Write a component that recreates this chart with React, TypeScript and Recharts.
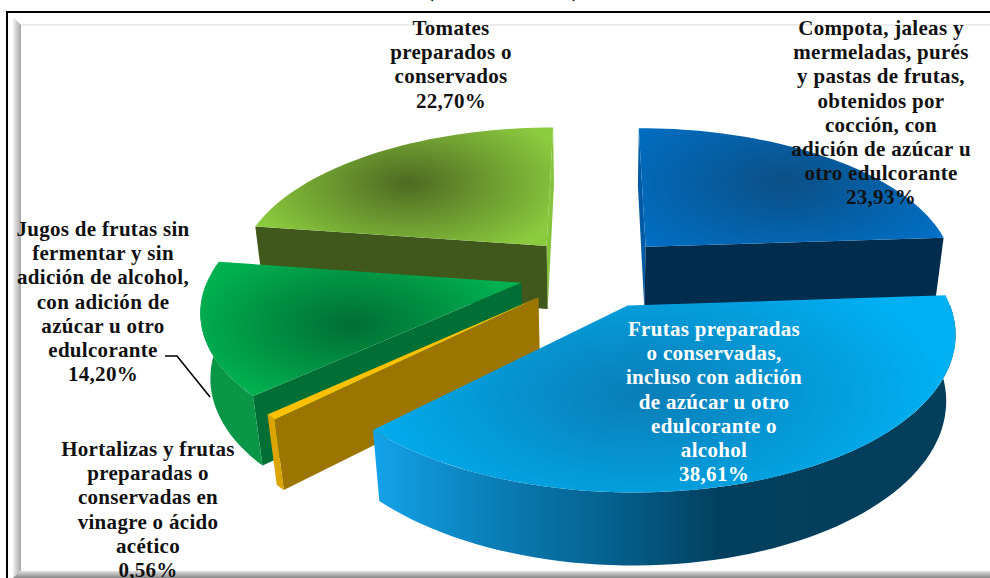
import { Pie, PieChart } from 'recharts'

const categories = [
  'Compota, jaleas y mermeladas, purés y pastas de frutas, obtenidos por cocción, con adición de azúcar u otro edulcorante',
  'Tomates preparados o conservados',
  'Jugos de frutas sin fermentar y sin adición de alcohol, con adición de azúcar u otro edulcorante',
  'Hortalizas y frutas preparadas o conservadas en vinagre o ácido acético',
  'Frutas preparadas o conservadas, incluso con adición de azúcar u otro edulcorante o alcohol',
]
const shares = [23.93, 22.7, 14.2, 0.56, 38.61]

const labelLines = [
  ['Compota, jaleas y', 'mermeladas, purés', 'y pastas de frutas,', 'obtenidos por', 'cocción, con', 'adición de azúcar u', 'otro edulcorante'],
  ['Tomates', 'preparados o', 'conservados'],
  ['Jugos de frutas sin', 'fermentar y sin', 'adición de alcohol,', 'con adición de', 'azúcar u otro', 'edulcorante'],
  ['Hortalizas y frutas', 'preparadas o', 'conservadas en', 'vinagre o ácido', 'acético'],
  ['Frutas preparadas', 'o conservadas,', 'incluso con adición', 'de azúcar u otro', 'edulcorante o', 'alcohol'],
]

const data = categories.map((name, i) => ({ name, value: shares[i] }))

// where each label sits and how each slice is painted
const labelPos = [
  { x: 881, y: 35, fill: '#111' },
  { x: 451, y: 35, fill: '#111' },
  { x: 103, y: 236, fill: '#111' },
  { x: 148, y: 456, fill: '#111' },
  { x: 714, y: 336, fill: '#fff' },
]
const paint = [
  { edge: '#0070c6', core: '#0b4f86', gx: 785, gy: 182, gr: 190, side: '#002c4e', rim: '#002c4e', back: '#005ba4' },
  { edge: '#8ccb3e', core: '#4d6a22', gx: 408, gy: 183, gr: 165, side: '#40581c', rim: '#40581c', back: '#86c43c' },
  { edge: '#00b050', core: '#006e33', gx: 352, gy: 325, gr: 165, side: '#006f35', rim: '#0a9646', back: '' },
  { edge: '#ffc000', core: '#ffc000', gx: 400, gy: 350, gr: 100, side: '#9c7500', rim: '#dba400', back: '' },
  { edge: '#00b0f2', core: '#0a7db6', gx: 640, gy: 395, gr: 300, side: '#003f5c', rim: 'url(#frutasWall)', back: '' },
]

const EXPLODE = 0.245
const PERSPECTIVE = 0.16
const SQUASH = 145 / 311
const DEPTH = 66
const DEPTH_SHRINK = 0.025

const rad = (a: number) => (a * Math.PI) / 180

function Slice3D(props: any) {
  const { cx, cy, outerRadius, startAngle, endAngle, index } = props
  const low = Math.min(startAngle, endAngle)
  const high = Math.max(startAngle, endAngle)
  const mid = (low + high) / 2
  const ox = EXPLODE * Math.cos(rad(mid))
  const oz = -EXPLODE * Math.sin(rad(mid))
  const style = paint[index]

  const project = (r: number, angle: number, bottom: boolean) => {
    const wx = ox + r * Math.cos(rad(angle))
    const wz = oz - r * Math.sin(rad(angle))
    let inv = 1 - PERSPECTIVE * wz
    if (bottom) inv += DEPTH_SHRINK
    const s = 1 / inv
    const x = cx + outerRadius * wx * s
    const y = cy + (outerRadius * SQUASH * wz + (bottom ? DEPTH : 0)) * s
    return `${x.toFixed(1)} ${y.toFixed(1)}`
  }
  const arc = (a: number, b: number, bottom: boolean) => {
    const pts: string[] = []
    const n = Math.max(2, Math.ceil((b - a) / 2))
    for (let i = 0; i <= n; i++) pts.push(project(1, a + ((b - a) * i) / n, bottom))
    return pts
  }
  const face = (angle: number) =>
    `M${project(0, angle, false)}L${project(1, angle, false)}L${project(1, angle, true)}L${project(0, angle, true)}Z`

  const wallFrom = Math.max(low, 180)
  const wallTo = Math.min(high, 360)
  const gradId = `top${index}`

  // the face along the 12 o'clock cut only peeps out as a thin sliver
  const backAngle = index === 0 ? high : low

  return (
    <g>
      <defs>
        <radialGradient
          id={gradId}
          gradientUnits="userSpaceOnUse"
          cx={0}
          cy={0}
          r={style.gr}
          gradientTransform={`translate(${style.gx} ${style.gy}) scale(1 0.5)`}
        >
          <stop offset="0" stopColor={style.core} />
          <stop offset="1" stopColor={style.edge} />
        </radialGradient>
        <linearGradient id="frutasWall" gradientUnits="userSpaceOnUse" x1={374} y1={0} x2={950} y2={0}>
          <stop offset="0" stopColor="#14a2ea" />
          <stop offset="0.2" stopColor="#0a7fb8" />
          <stop offset="0.42" stopColor="#045f8c" />
          <stop offset="0.6" stopColor="#03405f" />
          <stop offset="1" stopColor="#033e5a" />
        </linearGradient>
      </defs>
      {style.back && <path d={face(backAngle)} fill={style.back} />}
      {Math.cos(rad(low)) > 0.01 && <path d={face(low)} fill={style.side} />}
      {Math.cos(rad(high)) < -0.01 && <path d={face(high)} fill={style.side} />}
      {wallTo > wallFrom && (
        <path
          d={`M${arc(wallFrom, wallTo, false).join('L')}L${arc(wallFrom, wallTo, true).reverse().join('L')}Z`}
          fill={style.rim}
        />
      )}
      <path d={`M${project(0, low, false)}L${arc(low, high, false).join('L')}Z`} fill={`url(#${gradId})`} />
    </g>
  )
}

function sliceLabel(props: any) {
  const { index, value } = props
  const pos = labelPos[index]
  const lines = [...labelLines[index], `${value.toFixed(2).replace('.', ',')}%`]
  return (
    <g key={index}>
      {index === 2 && <path d="M165 356H177L210 397" fill="none" stroke="#000" strokeWidth={1.6} />}
      <text
        x={pos.x}
        y={pos.y}
        textAnchor="middle"
        fontFamily="'Liberation Serif', serif"
        fontWeight="bold"
        fontSize={21}
        letterSpacing={0.3}
        fill={pos.fill}
      >
        {lines.map((line, i) => (
          <tspan key={i} x={pos.x} y={pos.y + i * 24.2}>
            {line}
          </tspan>
        ))}
      </text>
    </g>
  )
}

const box = (style: object) => <div style={{ position: 'absolute', ...style }} />

export default function App() {
  return (
    <div style={{ position: 'absolute', left: 0, top: 0, width: 990, height: 578, overflow: 'hidden', background: '#fff' }}>
      {box({ left: 6, top: 11, width: 2, height: 567, background: '#000' })}
      {box({ left: 6, top: 11, width: 984, height: 2, background: '#000' })}
      {box({ left: 13, top: 17, width: 8, height: 561, background: 'linear-gradient(to right, #f2f2f2, #a6a6a6)', clipPath: 'polygon(0 0, 100% 8px, 100% 100%, 0 100%)' })}
      {box({ left: 21, top: 24, width: 969, height: 2, background: '#ececec' })}
      {box({ left: 13, top: 571, width: 977, height: 7, background: 'linear-gradient(to bottom, #e2e2e2, #858585)', clipPath: 'polygon(7px 0, 100% 0, 100% 100%, 0 100%)' })}
      <div
        style={{
          position: 'absolute',
          left: 0,
          top: -21,
          width: 990,
          fontFamily: "'Liberation Serif', serif",
          fontWeight: 'bold',
          fontSize: 20,
        }}
      >
        <span style={{ position: 'absolute', left: 427 }}>(</span>
        <span style={{ position: 'absolute', left: 572 }}>)</span>
      </div>
      <div style={{ position: 'absolute', left: 0, top: 0 }}>
        <PieChart width={990} height={578} margin={{ top: 0, right: 0, bottom: 0, left: 0 }}>
          <Pie
            data={data}
            dataKey="value"
            nameKey="name"
            cx={595}
            cy={272}
            innerRadius={0}
            outerRadius={311}
            startAngle={90 - 3.6 * shares[0]}
            endAngle={450 - 3.6 * shares[0]}
            paddingAngle={0}
            stroke="none"
            shape={Slice3D}
            label={sliceLabel}
            labelLine={false}
            isAnimationActive={false}
          />
        </PieChart>
      </div>
    </div>
  )
}
